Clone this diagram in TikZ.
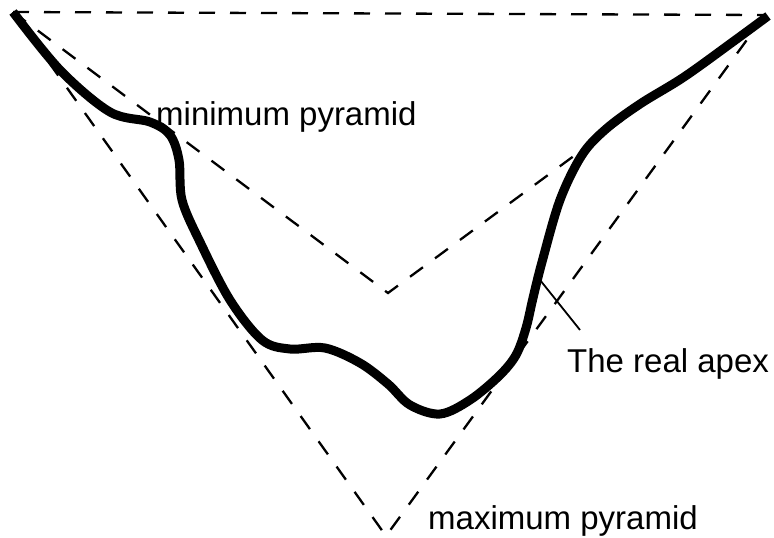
\documentclass[tikz,border=0pt]{standalone}
\usepackage{fontspec}
\setmainfont{Liberation Sans}
\begin{document}
\begin{tikzpicture}[x=1pt,y=-1pt,
  guide/.style={draw=black,line width=2.3pt,dash pattern=on 16pt off 15pt},
  surface/.style={draw=black,line width=9pt,line join=round},
  leader/.style={draw=black,line width=1.8pt},
  lbl/.style={anchor=base west,inner sep=0pt,font=\fontsize{33}{38}\selectfont}]
\useasboundingbox (0,0) rectangle (774,538);
\coordinate (tl) at (13,12);
\coordinate (tr) at (765,15);
\coordinate (minapex) at (388,293);
\coordinate (maxapex) at (386,536);
\draw[guide] (tl) -- (tr);
\draw[guide] (tl) -- (minapex) -- (tr);
\draw[guide] (tl) -- (maxapex) -- (tr);
\draw[surface] plot[smooth,tension=0.55] coordinates {
  (13,12) (60,70) (110,112) (150,122) (170,135) (179,160) (182,200)
  (200,242) (230,300) (262,340) (290,349) (325,348) (360,363) (388,384)
  (410,405) (440,414) (470,400) (499,376) (516,355) (526,328) (533,298)
  (542,262) (560,200) (582,155) (606,129) (640,104) (684,77) (734,41) (768,16)};
\coordinate (touch) at (540,280);
\node[lbl] (minlbl) at (156,125) {minimum pyramid};
\node[lbl] (maxlbl) at (428,529) {maximum pyramid};
\node[lbl] (apexlbl) at (567,372) {The real apex};
\coordinate (leadend) at (580,330);
\draw[leader] (touch) -- (leadend);
\end{tikzpicture}
\end{document}
